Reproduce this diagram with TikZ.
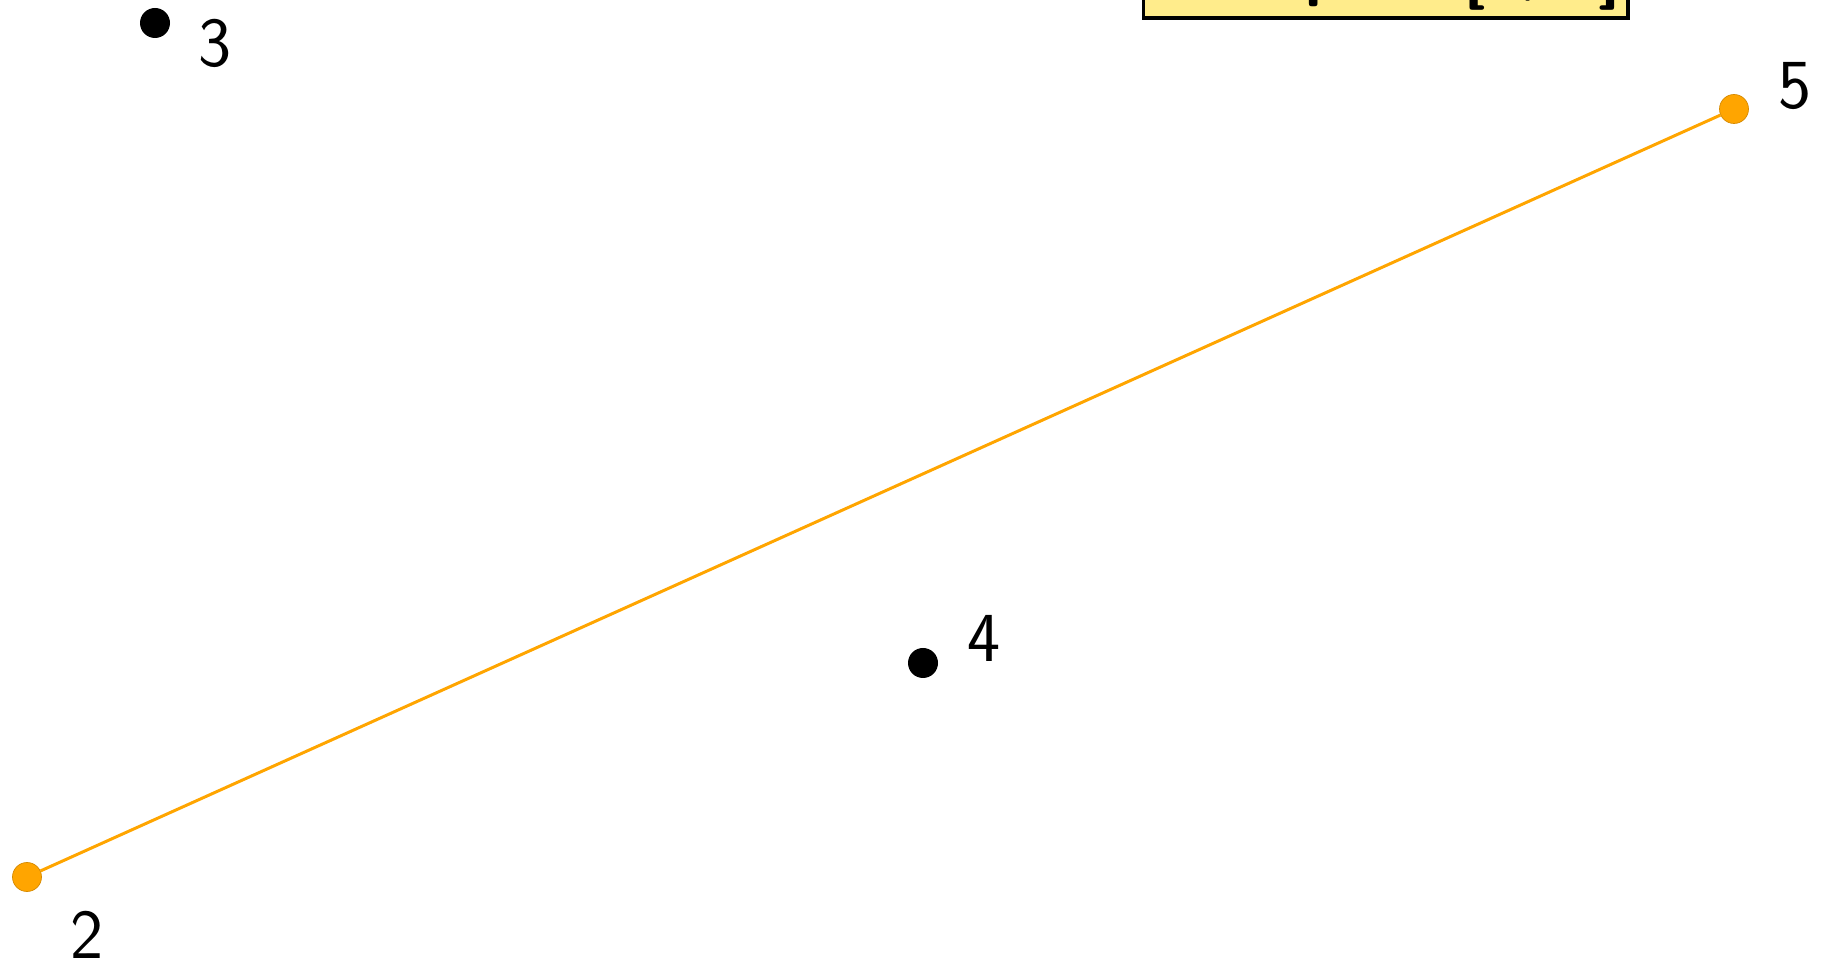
\documentclass[tikz,border=0pt]{standalone}
\usepackage{xcolor}
\usepackage{tikz}
\usetikzlibrary{positioning, calc}
\definecolor{hullorange}{RGB}{255,165,0}
\definecolor{hullline}{RGB}{214,138,0}
\definecolor{boxyellow}{RGB}{255,236,139}

\begin{document}
\begin{tikzpicture}[>=latex]
        % Define styles
        \tikzstyle{pt} = [circle, fill=black, inner sep=0pt, minimum size=0.30cm]
        \tikzstyle{hullpt} = [circle, fill=hullorange, draw=hullline, line width=0.2pt, inner sep=0pt, minimum size=0.29cm]
        \tikzstyle{lbl} = [inner sep=0pt, font=\sffamily\fontsize{20}{24}\selectfont]
        \tikzstyle{status} = [rectangle, draw=black, line width=1pt, fill=boxyellow, minimum width=4.7cm, inner sep=0.08cm, font=\sffamily\bfseries\fontsize{18}{22}\selectfont]

        \useasboundingbox (0,0) rectangle (18.3,9.67);

        % Points
        \node (p2) [hullpt] at (0.27,0.90) {};
        \node (p3) [pt] at (1.55,9.44) {};
        \node (p4) [pt] at (9.23,3.04) {};
        \node (p5) [hullpt] at (17.34,8.58) {};

        % Labels
        \node (l2) [lbl] at (0.87,0.32) {2};
        \node (l3) [lbl] at (2.15,9.24) {3};
        \node (l4) [lbl] at (9.84,3.29) {4};
        \node (l5) [lbl] at (17.95,8.81) {5};

        % Current pair
        \draw [hullorange, line width=0.85pt] (p2) -- (p5);

        % Status box (runs off the top)
        \node (info) [status, anchor=south] at (13.855,9.47) {Best pair: [2, 5]};
    \end{tikzpicture}
\end{document}
